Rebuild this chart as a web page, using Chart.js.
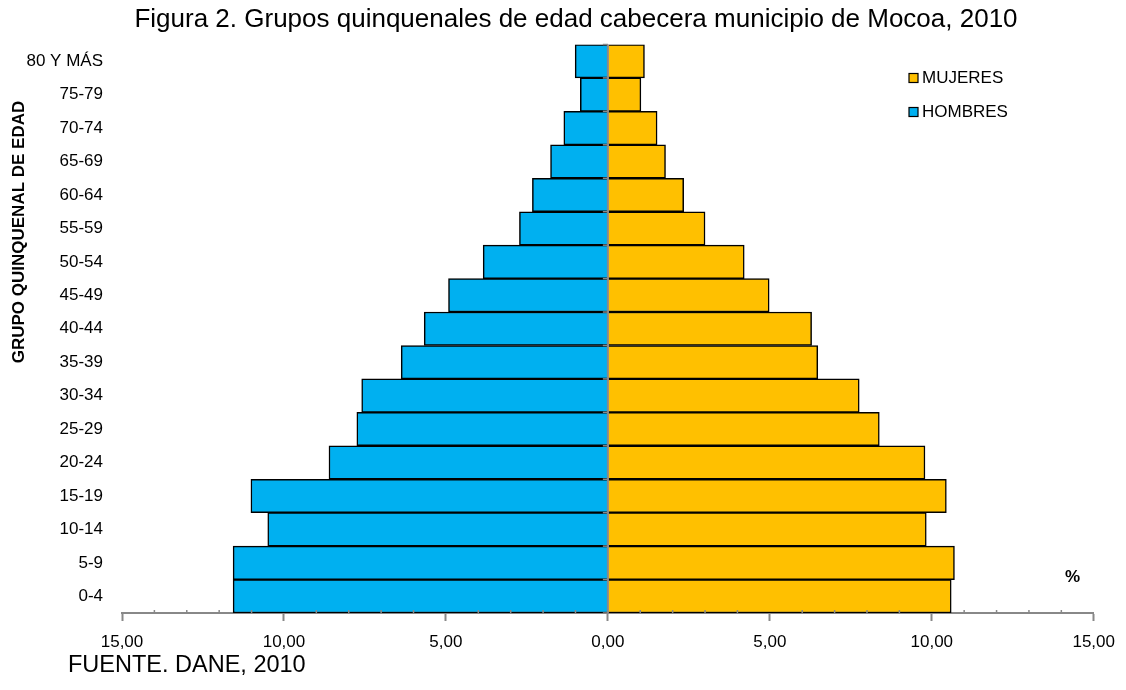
<!DOCTYPE html>
<html>
<head>
<meta charset="utf-8">
<script src="https://cdn.jsdelivr.net/npm/chart.js@4"></script>
<style>
  html, body { margin: 0; padding: 0; background: #fff; }
  #wrap { width: 1126px; height: 690px; position: relative; }
</style>
</head>
<body>
<div id="wrap"><canvas id="piramide"></canvas></div>
<script>
// grupos de edad, de abajo hacia arriba
const grupos = ['0-4', '5-9', '10-14', '15-19', '20-24', '25-29', '30-34', '35-39', '40-44',
                '45-49', '50-54', '55-59', '60-64', '65-69', '70-74', '75-79', '80 Y MÁS'];
// porcentajes (hombres a la izquierda)
const hombres = [11.57, 11.57, 10.50, 11.02, 8.61, 7.75, 7.60, 6.38, 5.67,
                 4.92, 3.85, 2.73, 2.33, 1.77, 1.36, 0.85, 1.01];
const mujeres = [10.60, 10.70, 9.83, 10.45, 9.79, 8.38, 7.76, 6.48, 6.29,
                 4.98, 4.21, 3.00, 2.34, 1.78, 1.52, 1.02, 1.13];
const marcasX = [-15, -10, -5, 0, 5, 10, 15];

const FUENTE = '"Liberation Sans", Arial, sans-serif';

// textos extra, leyenda, eje central y marcas menores
const extras = {
    id: 'extras',
    afterDraw(chart) {
        const ctx = chart.ctx;
        const x = chart.scales.x;
        const area = chart.chartArea;
        ctx.save();

        // marcas menores del eje x
        ctx.strokeStyle = '#888';
        ctx.lineWidth = 1.5;
        for (let v = -14; v <= 14; v++) {
            if (v % 5 === 0) continue;
            const px = x.getPixelForValue(v);
            ctx.beginPath();
            ctx.moveTo(px, area.bottom - 3);
            ctx.lineTo(px, area.bottom);
            ctx.stroke();
        }

        // eje vertical en 0 con marcas por grupo
        const x0 = x.getPixelForValue(0);
        ctx.lineWidth = 2;
        ctx.beginPath();
        ctx.moveTo(x0, area.top);
        ctx.lineTo(x0, area.bottom);
        ctx.stroke();
        const paso = (area.bottom - area.top) / grupos.length;
        ctx.lineWidth = 1.5;
        for (let i = 0; i <= grupos.length; i++) {
            const py = area.top + i * paso;
            ctx.beginPath();
            ctx.moveTo(x0 - 5, py);
            ctx.lineTo(x0, py);
            ctx.stroke();
        }

        // titulo
        ctx.fillStyle = '#000';
        ctx.textBaseline = 'middle';
        ctx.textAlign = 'center';
        ctx.font = '26px ' + FUENTE;
        ctx.fillText('Figura 2. Grupos quinquenales de edad cabecera municipio de Mocoa, 2010', 576, 20);

        // titulo eje y
        ctx.save();
        ctx.translate(19, 232);
        ctx.rotate(-Math.PI / 2);
        ctx.font = 'bold 17px ' + FUENTE;
        ctx.fillText('GRUPO QUINQUENAL DE EDAD', 0, 0);
        ctx.restore();

        // leyenda
        ctx.textAlign = 'left';
        ctx.font = '17px ' + FUENTE;
        const orden = [1, 0];
        orden.forEach((d, k) => {
            const ds = chart.data.datasets[d];
            const ly = 78 + k * 34;
            ctx.fillStyle = ds.backgroundColor;
            ctx.fillRect(909, ly - 4.5, 9, 9);
            ctx.strokeStyle = '#000';
            ctx.lineWidth = 1.2;
            ctx.strokeRect(909, ly - 4.5, 9, 9);
            ctx.fillStyle = '#000';
            ctx.fillText(ds.label, 922, ly);
        });

        // simbolo de porcentaje
        ctx.font = 'bold 17px ' + FUENTE;
        ctx.fillText('%', 1065, 577);

        // fuente
        ctx.font = '23.5px ' + FUENTE;
        ctx.fillText('FUENTE. DANE, 2010', 68, 666);

        ctx.restore();
    }
};

const ctx = document.getElementById('piramide').getContext('2d');
new Chart(ctx, {
    type: 'bar',
    data: {
        labels: grupos,
        datasets: [{
            label: 'HOMBRES',
            data: hombres.map(v => -v),
            backgroundColor: '#00B0F0',
            borderColor: '#000',
            borderWidth: 1.5
        }, {
            label: 'MUJERES',
            data: mujeres,
            backgroundColor: '#FFC000',
            borderColor: '#000',
            borderWidth: 1.5
        }]
    },
    options: {
        indexAxis: 'y',
        responsive: true,
        maintainAspectRatio: false,
        animation: false,
        barPercentage: 1,
        categoryPercentage: 1,
        layout: { padding: { top: 44.5, right: 32, bottom: 37, left: 0 } },
        plugins: {
            legend: { display: false },
            tooltip: { enabled: false },
            title: { display: false }
        },
        scales: {
            x: {
                type: 'linear',
                stacked: true,
                min: -15,
                max: 15,
                afterBuildTicks: (scale) => { scale.ticks = marcasX.map(v => ({ value: v })); },
                afterFit: (scale) => { scale.height = 40; },
                ticks: {
                    color: '#000',
                    font: { family: FUENTE, size: 17 },
                    padding: 11,
                    maxRotation: 0,
                    callback: (v) => Math.abs(v).toFixed(2).replace('.', ',')
                },
                grid: {
                    drawOnChartArea: false,
                    drawTicks: true,
                    tickLength: 8,
                    tickColor: '#888',
                    tickWidth: 2
                },
                border: { display: true, color: '#888', width: 2 }
            },
            y: {
                stacked: true,
                reverse: true,
                afterFit: (scale) => { scale.width = 122; },
                ticks: {
                    color: '#000',
                    autoSkip: false,
                    font: { family: FUENTE, size: 17 },
                    padding: 19
                },
                grid: { display: false, drawTicks: false },
                border: { display: false }
            }
        }
    },
    plugins: [extras]
});
</script>
</body>
</html>
